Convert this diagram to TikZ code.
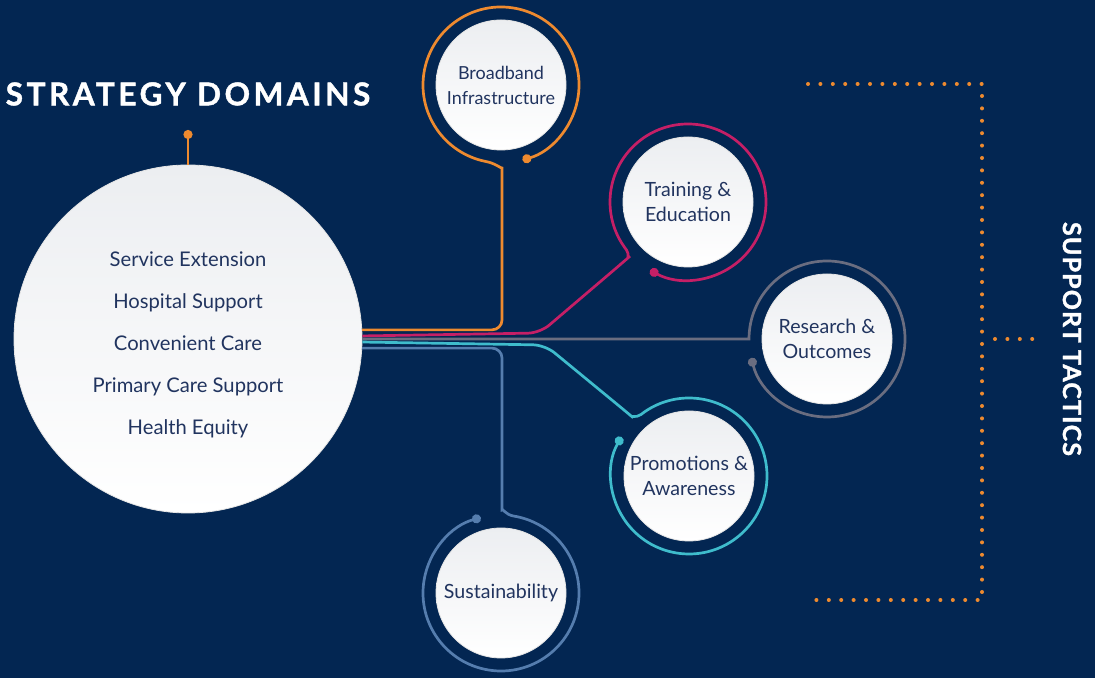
\documentclass[tikz,border=0pt]{standalone}
\usepackage{fontspec}
\setmainfont{Lato}
\newfontfamily\headfont[LetterSpace=11,FakeBold=1.3]{Lato}
\newfontfamily\sidefont[LetterSpace=4.5,FakeBold=1.3]{Lato}
\usepackage{xcolor}
\definecolor{stratNavy}{HTML}{032652}
\definecolor{stratInk}{HTML}{21345F}
\definecolor{stratOrange}{HTML}{EE8A2F}
\definecolor{stratPink}{HTML}{C51F66}
\definecolor{stratGray}{HTML}{6A6D80}
\definecolor{stratTeal}{HTML}{3FBCCC}
\definecolor{stratSteel}{HTML}{557DAE}
\definecolor{stratShade}{HTML}{ECEEF1}
\usepackage{tikz}
\usetikzlibrary{arrows.meta,calc}
\tikzset{
    domainbox/.style={
        circle,
        draw=black!10,
        top color=stratShade,
        bottom color=white,
        minimum size=174pt,
        inner sep=0pt
    },
    domaintext/.style={
        align=center,
        inner sep=0pt,
        text=stratInk,
        font=\fontsize{10.1pt}{21pt}\selectfont
    },
    tacticbox/.style={
        circle,
        draw=black!10,
        top color=stratShade,
        bottom color=white,
        minimum size=65pt,
        inner sep=0pt,
        align=center,
        text=stratInk,
        font=\fontsize{9.8pt}{12.3pt}\selectfont
    },
    thread/.style={
        line width=1.35pt,
        -{Circle[length=4.5pt]}
    },
    dotrule/.style={
        stratOrange,
        line width=2pt,
        line cap=round,
        dash pattern=on 0pt off 6.2pt
    },
    heading/.style={
        text=white,
        inner sep=0pt
    }
}

\begin{document}
\begin{tikzpicture}[x=0.5pt,y=0.5pt]
    % Canvas
    \useasboundingbox (0,0) rectangle (1095,678);
    \fill[stratNavy] (0,0) rectangle (1095,678);

    % Strategy domains
    \node[heading, font=\headfont\bfseries\fontsize{15.8pt}{18pt}\selectfont] (domains) at (188,584) {STRATEGY DOMAINS};
    \coordinate (stem) at (188,548);
    \node[domainbox] (main) at (188,339) {};
    \node[domaintext] (mainText) at ($(main)+(0,-6)$) {Service Extension\\Hospital Support\\Convenient Care\\Primary Care Support\\Health Equity};
    \draw[stratOrange, line width=1.35pt, {Circle[length=4.5pt]}-] (stem) -- (main.north);

    % Support tactics
    \node[tacticbox, font=\fontsize{9pt}{12.5pt}\selectfont] (bb) at (501,593) {Broadband\\Infrastructure};
    \node[tacticbox] (te) at (688,476) {Training \&\\Education};
    \node[tacticbox] (ro) at (827,339) {Research \&\\Outcomes};
    \node[tacticbox] (pa) at (689,202) {Promotions \&\\Awareness};
    \node[tacticbox] (su) at (501,85) {Sustainability};

    % Threads
    \draw[thread, stratOrange] (main.3.95) [rounded corners=5pt] -| (502,500) [sharp corners]
        to[out=90,in=-10] ($(bb)+(259:78)$) arc[start angle=259, end angle=-74, radius=78];
    \draw[thread, stratPink] (main.1.98) [rounded corners=6pt] -- (540,345) -- (621,414) [sharp corners]
        to[out=41,in=-52] ($(te)+(218:78)$) arc[start angle=218, end angle=-119, radius=78];
    \draw[thread, stratGray] (main.east) -- ($(ro)+(180:78)$) arc[start angle=180, end angle=-166, radius=78];
    \draw[thread, stratTeal] (main.-1.98) [rounded corners=6pt] -- (545,333) -- (624,268) [sharp corners]
        to[out=-40,in=-142] ($(pa)+(128:78)$) arc[start angle=128, end angle=-210, radius=78];
    \draw[thread, stratSteel] (main.-3.95) [rounded corners=5pt] -| (502,178) [sharp corners]
        to[out=-90,in=171] ($(su)+(81:78)$) arc[start angle=81, end angle=-255, radius=78];

    % Bracket
    \coordinate (brTop) at (808,594);
    \coordinate (brCorner) at (982,78);
    \coordinate (brBottom) at (808,78);
    \coordinate (tickA) at (995,339);
    \coordinate (tickB) at (1038,339);
    \draw[dotrule] (brTop) -| (brCorner) -- (brBottom);
    \draw[dotrule] (tickA) -- (tickB);
    \node[heading, rotate=-90, font=\sidefont\bfseries\fontsize{12.5pt}{15pt}\selectfont] (tactics) at (1072,339) {SUPPORT TACTICS};
\end{tikzpicture}
\end{document}
